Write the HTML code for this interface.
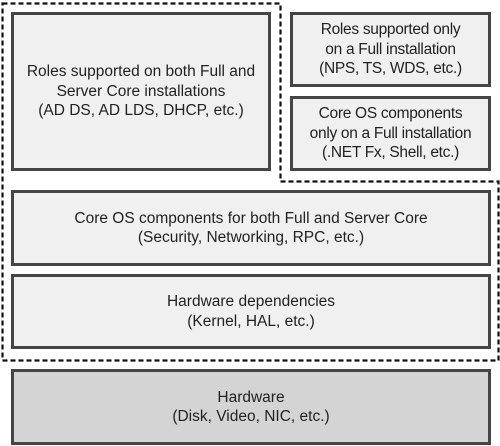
<!DOCTYPE html>
<html><head><style>
body{margin:0;width:500px;height:446px;background:#fff;position:relative;overflow:hidden;font-family:"Liberation Sans",sans-serif;}
.b{position:absolute;box-sizing:border-box;border:3px solid #454545;background:#f0f0f0;display:flex;align-items:center;justify-content:center;text-align:center;font-size:15.5px;line-height:19.5px;color:#222;}
svg{position:absolute;left:0;top:0}
</style></head><body>
<svg width="500" height="446"><path d="M2.5 3.5 H280.5 V181.5 H498.5 V360.5 H2.5 Z" fill="none" stroke="#111" stroke-width="2.2" stroke-dasharray="5,3"/></svg>
<div class="b" style="left:11px;top:12px;width:260px;height:159px">Roles supported on both Full and<br>Server Core installations<br>(AD DS, AD LDS, DHCP, etc.)</div>
<div class="b" style="left:290px;top:12px;width:201px;height:75px;letter-spacing:-0.3px">Roles supported only<br>on a Full installation<br>(NPS, TS, WDS, etc.)</div>
<div class="b" style="left:290px;top:96px;width:201px;height:75px;letter-spacing:-0.3px">Core OS components<br>only on a Full installation<br>(.NET Fx, Shell, etc.)</div>
<div class="b" style="left:11px;top:190px;width:480px;height:76px">Core OS components for both Full and Server Core<br>(Security, Networking, RPC, etc.)</div>
<div class="b" style="left:11px;top:274px;width:480px;height:75px">Hardware dependencies<br>(Kernel, HAL, etc.)</div>
<div class="b" style="left:11px;top:369px;width:480px;height:76px;background:#d4d4d4">Hardware<br>(Disk, Video, NIC, etc.)</div>
</body></html>
